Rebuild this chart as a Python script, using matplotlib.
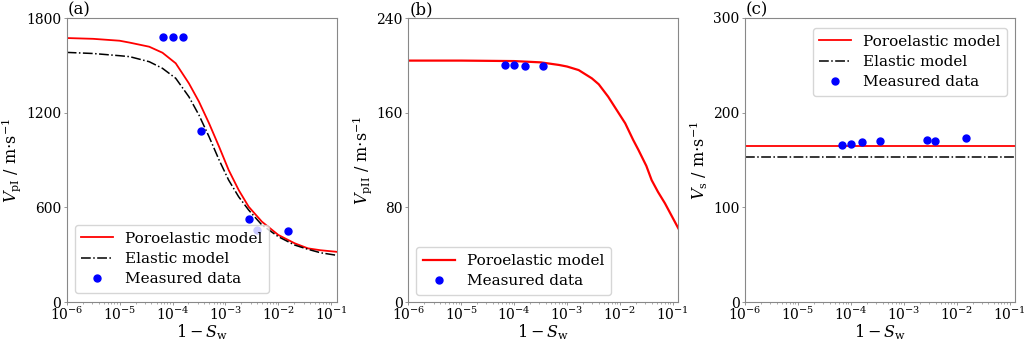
import numpy as np
import matplotlib
matplotlib.use('Agg')
import matplotlib.pyplot as plt

plt.rcParams['font.family'] = 'DejaVu Serif'
plt.rcParams['mathtext.fontset'] = 'dejavuserif'

# x axis: 1 - Sw
x_lim = (1e-6, 0.127)

# measured data
x_meas = [6.7e-5, 1.0e-4, 1.6e-4, 3.5e-4, 2.8e-3, 3.9e-3, 1.5e-2]
vp1_meas = [1679, 1679, 1679, 1086, 529, 455, 449]
x_meas_b = [6.7e-5, 1.0e-4, 1.6e-4, 3.5e-4]
vp2_meas = [200.5, 200.2, 199.7, 199.7]
vs_meas = [165.5, 167.0, 169.4, 170.1, 170.8, 170.5, 173.6]

# model curves (a)
x_model_a = [1e-6, 3.16e-6, 1e-5, 1.55e-5, 3.63e-5, 6.46e-5, 1.15e-4, 2.04e-4,
             3.16e-4, 4.9e-4, 7.6e-4, 1.15e-3, 1.78e-3, 2.75e-3, 4.9e-3,
             1e-2, 2.04e-2, 3.63e-2, 6.3e-2, 0.127]
vp1_poro = [1673, 1668, 1656, 1644, 1618, 1580, 1513, 1386,
            1270, 1133, 984, 837, 710, 604, 509,
            425, 372, 340, 328, 318]
vp1_elas = [1582, 1575, 1561, 1555, 1523, 1481, 1418, 1301,
            1185, 1048, 900, 773, 667, 583, 488,
            414, 361, 334, 312, 296]

# model curve (b)
x_model_b = [1e-6, 1e-5, 1e-4, 3.2e-4, 7.1e-4, 1e-3, 1.66e-3, 2.95e-3, 3.98e-3,
             6.0e-3, 1e-2, 1.26e-2, 1.78e-2, 2.24e-2, 3.16e-2, 3.98e-2,
             5.25e-2, 7.1e-2, 0.127]
vp2_poro = [204, 204, 203.6, 202.5, 200.3, 199.0, 196, 189, 184,
            173.5, 158, 151, 137, 128.5, 115, 103,
            93, 83.4, 62.3]

# model lines (c)
vs_poro = 165.1
vs_elas = 153.5

fig = plt.figure(figsize=(10.24, 3.41), dpi=100)
W, H = 1024, 341
lefts = [66.7, 408.3, 745.0]
axs = [fig.add_axes([l / W, 39 / H, 270.0 / W, 284 / H]) for l in lefts]

fs = 11.5
lfs = 11
tfs = 10
leg_kw = dict(fontsize=lfs, handlelength=2.1, handletextpad=0.75,
              borderpad=0.45, labelspacing=0.4, borderaxespad=0)


def style(ax, ymax, yticks, ylabel, tag):
    ax.set_xscale('log')
    ax.set_xlim(*x_lim)
    ax.set_ylim(0, ymax)
    ax.set_yticks(yticks)
    ax.set_xticks([1e-6, 1e-5, 1e-4, 1e-3, 1e-2, 1e-1])
    ax.tick_params(which='major', length=2, width=0.6, pad=2, labelsize=tfs,
                   color='#888888')
    ax.tick_params(axis='x', which='major', pad=1)
    ax.tick_params(which='minor', length=1.5, width=0.5, color='#888888')
    for s in ax.spines.values():
        s.set_color('#888888')
    ax.set_xlabel(r'$1-S_{\mathrm{w}}$', fontsize=fs, labelpad=-1)
    ax.set_ylabel(ylabel, fontsize=fs, labelpad=2)
    ax.text(0.004, 1.0, tag, transform=ax.transAxes, fontsize=fs + 0.5,
            ha='left', va='bottom')


ax = axs[0]
ax.plot(x_model_a, vp1_poro, color='red', lw=1.3, label='Poroelastic model')
ax.plot(x_model_a, vp1_elas, color='black', lw=1.1, ls='-.', label='Elastic model')
ax.plot(x_meas, vp1_meas, 'o', color='blue', ms=5, ls='none', label='Measured data')
style(ax, 1800, [0, 600, 1200, 1800],
      r'$V_{\mathrm{pI}}$ / m$\cdot$s$^{-1}$', '(a)')
ax.legend(loc='lower left', bbox_to_anchor=(0.029, 0.032), **leg_kw)

ax = axs[1]
ax.plot(x_model_b, vp2_poro, color='red', lw=1.6, label='Poroelastic model')
ax.plot(x_meas_b, vp2_meas, 'o', color='blue', ms=5, ls='none', label='Measured data')
style(ax, 240, [0, 80, 160, 240],
      r'$V_{\mathrm{pII}}$ / m$\cdot$s$^{-1}$', '(b)')
ax.legend(loc='lower left', bbox_to_anchor=(0.029, 0.025), **leg_kw)

ax = axs[2]
ax.axhline(vs_poro, color='red', lw=1.3, label='Poroelastic model')
ax.axhline(vs_elas, color='black', lw=1.1, ls='-.', label='Elastic model')
ax.plot(x_meas, vs_meas, 'o', color='blue', ms=5, ls='none', label='Measured data')
style(ax, 300, [0, 100, 200, 300],
      r'$V_{\mathrm{s}}$ / m$\cdot$s$^{-1}$', '(c)')
ax.legend(loc='upper right', bbox_to_anchor=(0.971, 0.965), **leg_kw)

fig.savefig('out.png', dpi=100)
